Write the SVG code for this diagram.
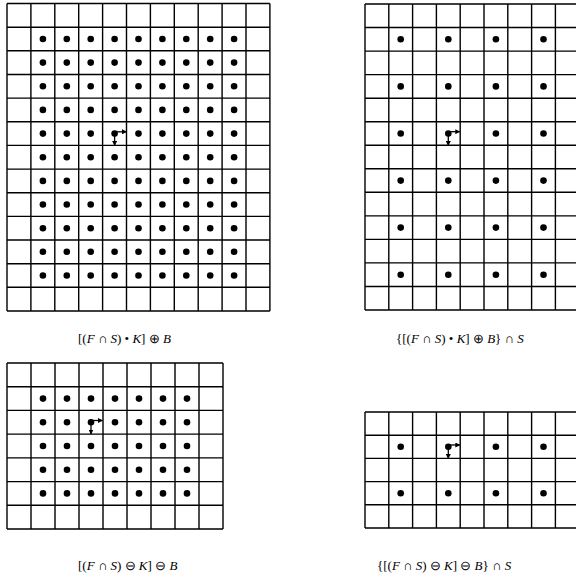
<svg xmlns="http://www.w3.org/2000/svg" xmlns:xlink="http://www.w3.org/1999/xlink" width="576" height="583" viewBox="0 0 576 583">
<style>
.grid{fill:none;stroke:#000;stroke-width:1.4}
.dot{fill:#000}
.arr{fill:none;stroke:#000;stroke-width:1.3;marker-end:url(#ah)}
.lbl{font-family:"Liberation Serif","Times New Roman",serif;font-size:13px;fill:#000}
.it{font-style:italic}
</style>
<defs>
<marker id="ah" markerUnits="userSpaceOnUse" markerWidth="5" markerHeight="5" refX="4.5" refY="2.5" orient="auto">
<path d="M0 0L5 2.5L0 5z" fill="#000"/>
</marker>
<g id="r1">
<circle cx="42.9" cy="0" r="3.3"/><circle cx="66.8" cy="0" r="3.3"/><circle cx="90.7" cy="0" r="3.3"/><circle cx="114.6" cy="0" r="3.3"/><circle cx="138.5" cy="0" r="3.3"/><circle cx="162.4" cy="0" r="3.3"/><circle cx="186.3" cy="0" r="3.3"/><circle cx="210.2" cy="0" r="3.3"/><circle cx="234.1" cy="0" r="3.3"/>
</g>
<g id="r2">
<circle cx="400.7" cy="0" r="3.3"/><circle cx="448.3" cy="0" r="3.3"/><circle cx="495.9" cy="0" r="3.3"/><circle cx="543.5" cy="0" r="3.3"/>
</g>
<g id="r3">
<circle cx="43" cy="0" r="3.3"/><circle cx="67" cy="0" r="3.3"/><circle cx="91" cy="0" r="3.3"/><circle cx="115" cy="0" r="3.3"/><circle cx="139" cy="0" r="3.3"/><circle cx="163" cy="0" r="3.3"/><circle cx="187" cy="0" r="3.3"/>
</g>
</defs>
<rect width="576" height="583" fill="#fff"/>

<g id="panel1">
<path class="grid" d="M7 3.5V311M30.9 3.5V311M54.8 3.5V311M78.7 3.5V311M102.6 3.5V311M126.5 3.5V311M150.4 3.5V311M174.3 3.5V311M198.2 3.5V311M222.1 3.5V311M246 3.5V311M269.9 3.5V311M7 3.5H269.9M7 27.2H269.9M7 50.8H269.9M7 74.5H269.9M7 98.1H269.9M7 121.8H269.9M7 145.4H269.9M7 169.1H269.9M7 192.7H269.9M7 216.4H269.9M7 240H269.9M7 263.7H269.9M7 287.3H269.9M7 311H269.9"/>
<g class="dot">
<use xlink:href="#r1" y="39"/><use xlink:href="#r1" y="62.6"/><use xlink:href="#r1" y="86.3"/><use xlink:href="#r1" y="109.9"/><use xlink:href="#r1" y="133.6"/><use xlink:href="#r1" y="157.2"/><use xlink:href="#r1" y="180.9"/><use xlink:href="#r1" y="204.5"/><use xlink:href="#r1" y="228.2"/><use xlink:href="#r1" y="251.8"/><use xlink:href="#r1" y="275.5"/>
</g>
<text class="lbl" x="78" y="343">[(<tspan class="it">F</tspan> ∩ <tspan class="it">S</tspan>) • <tspan class="it">K</tspan>] ⊕ <tspan class="it">B</tspan></text>
</g>

<g id="panel2">
<path class="grid" d="M365 4V310M388.8 4V310M412.6 4V310M436.4 4V310M460.2 4V310M484 4V310M507.8 4V310M531.6 4V310M555.4 4V310M365 4H577M365 27.5H577M365 51.1H577M365 74.6H577M365 98.2H577M365 121.7H577M365 145.2H577M365 168.8H577M365 192.3H577M365 215.9H577M365 239.4H577M365 262.9H577M365 286.5H577M365 310H577"/>
<g class="dot">
<use xlink:href="#r2" y="39.3"/><use xlink:href="#r2" y="86.4"/><use xlink:href="#r2" y="133.5"/><use xlink:href="#r2" y="180.6"/><use xlink:href="#r2" y="227.6"/><use xlink:href="#r2" y="274.7"/>
</g>
<text class="lbl" x="396" y="343">{[(<tspan class="it">F</tspan> ∩ <tspan class="it">S</tspan>) • <tspan class="it">K</tspan>] ⊕ <tspan class="it">B</tspan>} ∩ <tspan class="it">S</tspan></text>
</g>

<g id="panel3">
<path class="grid" d="M7 363V529M31 363V529M55 363V529M79 363V529M103 363V529M127 363V529M151 363V529M175 363V529M199 363V529M223 363V529M7 363H223M7 386.7H223M7 410.4H223M7 434.1H223M7 457.9H223M7 481.6H223M7 505.3H223M7 529H223"/>
<g class="dot">
<use xlink:href="#r3" y="398.6"/><use xlink:href="#r3" y="422.3"/><use xlink:href="#r3" y="446"/><use xlink:href="#r3" y="469.7"/><use xlink:href="#r3" y="493.4"/>
</g>
<text class="lbl" x="78" y="570">[(<tspan class="it">F</tspan> ∩ <tspan class="it">S</tspan>) ⊖ <tspan class="it">K</tspan>] ⊖ <tspan class="it">B</tspan></text>
</g>

<g id="panel4">
<path class="grid" d="M365 412V528M388.8 412V528M412.6 412V528M436.4 412V528M460.2 412V528M484 412V528M507.8 412V528M531.6 412V528M555.4 412V528M365 412H577M365 435.2H577M365 458.4H577M365 481.6H577M365 504.8H577M365 528H577"/>
<g class="dot">
<use xlink:href="#r2" y="446.8"/><use xlink:href="#r2" y="493.2"/>
</g>
<text class="lbl" x="377" y="570">{[(<tspan class="it">F</tspan> ∩ <tspan class="it">S</tspan>) ⊖ <tspan class="it">K</tspan>] ⊖ <tspan class="it">B</tspan>} ∩ <tspan class="it">S</tspan></text>
</g>

<g id="connectors">
<path class="arr" d="M116 131.8H126.5"/>
<path class="arr" d="M114.6 136V145.5"/>
<path class="arr" d="M449.7 131.7H459.8"/>
<path class="arr" d="M448.3 136V145.5"/>
<path class="arr" d="M92.4 420.5H102.5"/>
<path class="arr" d="M91 424.7V434"/>
<path class="arr" d="M449.7 445H459.8"/>
<path class="arr" d="M448.3 449.2V458.5"/>
</g>
</svg>
